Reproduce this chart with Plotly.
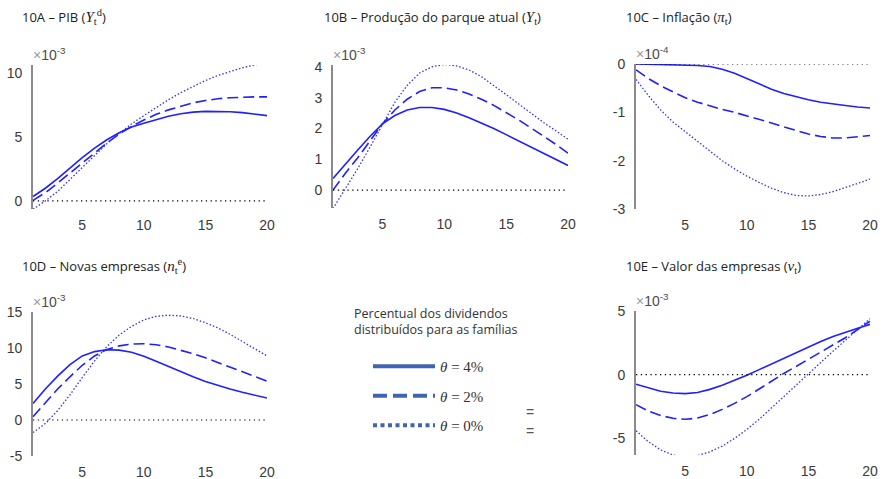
import plotly.graph_objects as go

t = list(range(1, 21))
zero = [0, 0]
zero_t = [1, 20]

# 10A - PIB (x1e-3)
pib_4 = [0.35, 1.0, 1.75, 2.6, 3.4, 4.15, 4.8, 5.35, 5.8, 6.1, 6.4, 6.65, 6.85, 6.97, 7.03, 7.04, 7.0, 6.93, 6.83, 6.7]
pib_2 = [0.05, 0.65, 1.4, 2.2, 3.0, 3.8, 4.55, 5.25, 5.85, 6.35, 6.8, 7.15, 7.45, 7.7, 7.88, 8.02, 8.1, 8.15, 8.17, 8.17]
pib_0 = [-0.65, 0.0, 0.75, 1.7, 2.65, 3.6, 4.5, 5.3, 6.05, 6.7, 7.35, 7.95, 8.5, 9.0, 9.45, 9.85, 10.15, 10.45, 10.68, 10.85]

# 10B - Produção do parque atual (x1e-3)
prod_4 = [0.38, 0.85, 1.3, 1.75, 2.15, 2.42, 2.6, 2.68, 2.68, 2.62, 2.5, 2.35, 2.18, 2.0, 1.8, 1.6, 1.4, 1.19, 0.99, 0.8]
prod_2 = [0.0, 0.55, 1.05, 1.6, 2.15, 2.6, 2.95, 3.2, 3.32, 3.32, 3.25, 3.12, 2.95, 2.75, 2.52, 2.28, 2.02, 1.76, 1.49, 1.2]
prod_0 = [-0.6, 0.05, 0.7, 1.4, 2.15, 2.85, 3.4, 3.8, 4.0, 4.08, 4.03, 3.9, 3.68, 3.4, 3.1, 2.8, 2.5, 2.2, 1.93, 1.65]

# 10C - Inflação (x1e-4)
inf_4 = [0.0, -0.005, -0.01, -0.015, -0.02, -0.03, -0.05, -0.11, -0.19, -0.3, -0.41, -0.52, -0.61, -0.68, -0.74, -0.79, -0.83, -0.86, -0.89, -0.91]
inf_2 = [-0.12, -0.3, -0.45, -0.58, -0.7, -0.79, -0.87, -0.94, -1.0, -1.07, -1.14, -1.22, -1.3, -1.38, -1.45, -1.5, -1.53, -1.53, -1.51, -1.48]
inf_0 = [-0.32, -0.65, -0.95, -1.2, -1.4, -1.6, -1.8, -2.0, -2.17, -2.32, -2.45, -2.57, -2.66, -2.72, -2.73, -2.7, -2.64, -2.56, -2.47, -2.38]

# 10D - Novas empresas (x1e-3)
nov_4 = [2.3, 4.3, 6.1, 7.7, 8.9, 9.5, 9.75, 9.7, 9.4, 8.85, 8.15, 7.4, 6.7, 6.0, 5.35, 4.8, 4.3, 3.85, 3.45, 3.05]
nov_2 = [0.45, 2.4, 4.3, 6.0, 7.6, 8.9, 9.8, 10.3, 10.55, 10.6, 10.45, 10.15, 9.7, 9.2, 8.65, 8.0, 7.35, 6.7, 6.05, 5.4]
nov_0 = [-1.75, -0.5, 1.3, 3.5, 5.9, 8.2, 10.2, 11.8, 13.0, 13.9, 14.4, 14.55, 14.45, 14.1, 13.5, 12.8, 11.9, 10.9, 9.9, 8.9]

# 10E - Valor das empresas (x1e-3)
val_4 = [-0.75, -1.05, -1.3, -1.43, -1.48, -1.4, -1.15, -0.82, -0.45, -0.05, 0.4, 0.85, 1.3, 1.75, 2.2, 2.6, 3.0, 3.35, 3.65, 3.95]
val_2 = [-2.35, -2.85, -3.2, -3.42, -3.5, -3.4, -3.12, -2.72, -2.25, -1.72, -1.12, -0.5, 0.1, 0.65, 1.2, 1.75, 2.3, 2.9, 3.55, 4.2]
val_0 = [-4.4, -5.25, -5.9, -6.3, -6.45, -6.35, -6.05, -5.6, -5.0, -4.3, -3.5, -2.6, -1.7, -0.8, 0.1, 1.0, 1.85, 2.7, 3.55, 4.4]

theta_labels = ["<i>θ</i> = 4%", "<i>θ</i> = 2%", "<i>θ</i> = 0%"]

W, H = 882, 479
def dx(a, b):
    return [a / W, b / W]
def dy(top, bot):
    return [1 - bot / H, 1 - top / H]

panels = [
    dict(series=[pib_4, pib_2, pib_0], xd=dx(33, 267), yd=dy(65, 209), yr=[-0.63, 10.67],
         tv=[0, 5, 10], tt=["0", "5", "10"], exp="-3"),
    dict(series=[prod_4, prod_2, prod_0], xd=dx(333, 568), yd=dy(65, 208), yr=[-0.58, 4.06],
         tv=[0, 1, 2, 3, 4], tt=["0", "1", "2", "3", "4"], exp="-3"),
    dict(series=[inf_4, inf_2, inf_0], xd=dx(636, 870), yd=dy(64, 209), yr=[-3, 0.0],
         tv=[-3, -2, -1, 0], tt=["-3", "-2", "-1", "0"], exp="-4"),
    dict(series=[nov_4, nov_2, nov_0], xd=dx(33, 267), yd=dy(312, 456), yr=[-5, 15],
         tv=[-5, 0, 5, 10, 15], tt=["-5", "0", "5", "10", "15"], exp="-3"),
    dict(series=[val_4, val_2, val_0], xd=dx(636, 870), yd=dy(311, 455), yr=[-6.3, 5],
         tv=[-5, 0, 5], tt=["-5", "0", "5"], exp="-3"),
]

line_styles = [
    dict(color="#1f1fff", width=1.6, dash="solid"),
    dict(color="#1f1fff", width=1.6, dash="11px,5px"),
    dict(color="#3030ff", width=1.3, dash="1.5px,2px"),
]

fig = go.Figure()
layout = dict(
    width=W, height=H, margin=dict(l=0, r=0, t=0, b=0, autoexpand=False),
    paper_bgcolor="white", plot_bgcolor="white", showlegend=True,
)
annotations = []
tickfont = dict(family="Liberation Sans, Arial", size=14, color="#3a3a3a")

for i, p in enumerate(panels):
    n = i + 1
    xa = "x" if n == 1 else f"x{n}"
    ya = "y" if n == 1 else f"y{n}"
    for s, st in zip(p["series"], line_styles):
        fig.add_trace(go.Scatter(x=t, y=s, mode="lines", line=st, xaxis=xa, yaxis=ya,
                                 showlegend=False, hoverinfo="skip"))
    fig.add_trace(go.Scatter(x=zero_t, y=zero, mode="lines",
                             line=dict(color="black", width=1.2, dash="1.3px,3.5px"),
                             xaxis=xa, yaxis=ya, showlegend=False, hoverinfo="skip"))
    xkey = "xaxis" if n == 1 else f"xaxis{n}"
    ykey = "yaxis" if n == 1 else f"yaxis{n}"
    layout[xkey] = dict(domain=p["xd"], range=[1, 20], anchor=ya, showline=False, showgrid=False,
                        zeroline=False, tickvals=[5, 10, 15, 20], ticks="", tickfont=tickfont,
                        ticklabelstandoff=6, automargin=False)
    layout[ykey] = dict(domain=p["yd"], range=p["yr"], anchor=xa, showline=True, linecolor="#8a8a8a",
                        linewidth=1.8, showgrid=False, zeroline=False, tickvals=p["tv"],
                        ticktext=p["tt"], ticks="", tickfont=tickfont, ticklabelstandoff=6,
                        automargin=False)
    annotations.append(dict(
        xref=f"{xa} domain", yref=f"{ya} domain", x=0, y=1, xanchor="left", yanchor="bottom",
        yshift=0, xshift=-2, showarrow=False,
        text=f"<span style='color:#9a9a9a'>×</span>10<sup>{p['exp']}</sup>",
        font=dict(family="Liberation Sans, Arial", size=14, color="#4a4a4a")))

# legend entries
for lab, st in zip(theta_labels, [dict(color="#4064b4", width=4, dash="solid"),
                                   dict(color="#4064b4", width=4, dash="14px,6px"),
                                   dict(color="#4064b4", width=4, dash="4px,3.5px")]):
    fig.add_trace(go.Scatter(x=[None], y=[None], mode="lines", line=st, name=lab,
                             legendgroup=lab, showlegend=True))

layout["legend"] = dict(x=368 / W, y=1 - 350 / H, xanchor="left", yanchor="top",
                        font=dict(family="Liberation Serif, DejaVu Serif", size=15, color="#333"),
                        tracegroupgap=7, itemwidth=62, bgcolor="rgba(0,0,0,0)", traceorder="grouped")

sym = "font-family:Liberation Serif, DejaVu Serif;font-size:15px"
titles = [
    (20, 17, f"10A – PIB (<span style='{sym}'><i>Y</i><sub>t</sub><sup>d</sup></span>)"),
    (322, 17, f"10B – Produção do parque atual (<span style='{sym}'><i>Y</i><sub>t</sub></span>)"),
    (624, 17, f"10C – Inflação (<span style='{sym}'><i>π</i><sub>t</sub></span>)"),
    (20, 266, f"10D – Novas empresas (<span style='{sym}'><i>n</i><sub>t</sub><sup>e</sup></span>)"),
    (624, 266, f"10E – Valor das empresas (<span style='{sym}'><i>v</i><sub>t</sub></span>)"),
]
for x, y, txt in titles:
    annotations.append(dict(xref="paper", yref="paper", x=x / W, y=1 - y / H, xanchor="left",
                            yanchor="middle", showarrow=False, text=txt,
                            font=dict(family="Open Sans", size=13, color="#222")))

annotations.append(dict(xref="paper", yref="paper", x=352 / W, y=1 - 321 / H, xanchor="left",
                        yanchor="middle", align="left", showarrow=False,
                        text="Percentual dos dividendos<br>distribuídos para as famílias",
                        font=dict(family="Open Sans", size=12.5, color="#333")))
for yy in [412, 431]:
    annotations.append(dict(xref="paper", yref="paper", x=530 / W, y=1 - yy / H, xanchor="center",
                            yanchor="middle", showarrow=False, text="=",
                            font=dict(family="Liberation Sans", size=14, color="#555")))

layout["annotations"] = annotations
fig.update_layout(**layout)
post = "document.body.style.margin='0';document.body.style.overflow='hidden';"
fig.write_html("out.html", config={"displayModeBar": False}, post_script=post)
